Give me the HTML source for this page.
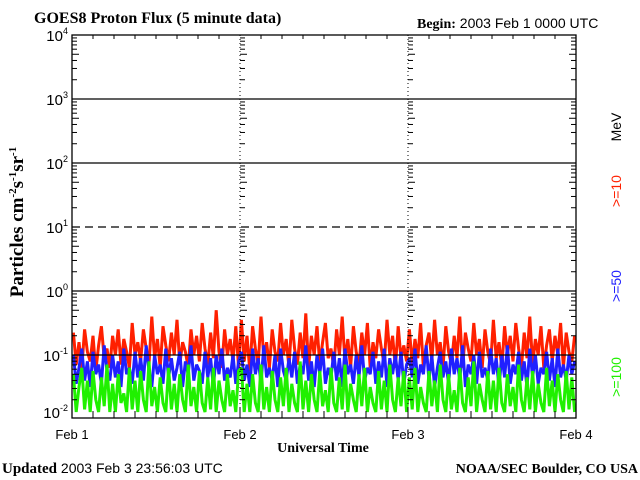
<!DOCTYPE html>
<html><head><meta charset="utf-8"><style>
body{margin:0;width:640px;height:480px;background:#fff;overflow:hidden}
svg{display:block}
.s{font-family:"Liberation Sans",sans-serif}
.b{font-family:"Liberation Serif",serif;font-weight:bold}
</style></head><body>
<svg id="chart" width="640" height="480">
<text class="b" x="34" y="23" font-size="16">GOES8 Proton Flux (5 minute data)</text>
<text x="417" y="28" font-size="14"><tspan class="b">Begin:</tspan><tspan class="s"> 2003 Feb 1 0000 UTC</tspan></text>
<text class="b" transform="translate(23,222) rotate(-90)" text-anchor="middle" font-size="19">Particles cm<tspan font-size="11" dy="-7">-2</tspan><tspan dy="7">s</tspan><tspan font-size="11" dy="-7">-1</tspan><tspan dy="7">sr</tspan><tspan font-size="11" dy="-7">-1</tspan></text>
<text class="s" transform="translate(621,127) rotate(-90)" text-anchor="middle" font-size="14" fill="#000">MeV</text>
<text class="s" transform="translate(621,191) rotate(-90)" text-anchor="middle" font-size="14" fill="#ff2000">&gt;=10</text>
<text class="s" transform="translate(621,286) rotate(-90)" text-anchor="middle" font-size="14" fill="#2020ff">&gt;=50</text>
<text class="s" transform="translate(621,377) rotate(-90)" text-anchor="middle" font-size="14" fill="#20f000">&gt;=100</text>
<g id="plot"></g>
<text class="b" x="323" y="452" text-anchor="middle" font-size="14">Universal Time</text>
<text x="2" y="473" font-size="15"><tspan class="b">Updated</tspan><tspan class="s" font-size="14"> 2003 Feb  3 23:56:03 UTC</tspan></text>
<text class="b" x="638" y="473" text-anchor="end" font-size="14">NOAA/SEC Boulder, CO USA</text>
</svg>
<script>
const dayLabels=["Feb 1","Feb 2","Feb 3","Feb 4"];
const decades=[-2,-1,0,1,2,3,4];
const red=[-0.65,-1.15,-0.8,-1.2,-0.6,-0.95,-1.1,-0.7,-1.25,-0.85,-0.55,-1.05,-0.9,-1.2,-0.7,-1.0,-0.6,-1.15,-0.75,-0.95,-1.2,-0.5,-1.0,-0.8,-1.1,-0.6,-0.9,-1.15,-0.4,-1.05,-0.75,-1.2,-0.55,-0.85,-1.1,-0.65,-1.0,-0.45,-1.15,-0.8,-0.95,-1.2,-0.6,-1.0,-0.7,-1.1,-0.5,-0.9,-1.15,-0.65,-1.05,-0.3,-0.95,-1.2,-0.6,-1.0,-0.75,-1.1,-0.55,-1.2,
-0.45,-1.1,-0.7,-1.25,-0.55,-0.9,-1.15,-0.4,-1.05,-0.8,-1.2,-0.6,-0.95,-1.1,-0.5,-1.0,-0.75,-1.2,-0.45,-0.9,-1.15,-0.65,-1.05,-0.35,-1.2,-0.7,-1.0,-0.55,-1.15,-0.8,-0.5,-1.05,-0.9,-1.2,-0.6,-1.0,-0.4,-1.1,-0.75,-1.2,-0.55,-0.95,-1.15,-0.65,-1.0,-0.5,-1.2,-0.8,-1.05,-0.6,-0.9,-1.15,-0.45,-1.0,-0.7,-1.2,-0.55,-1.05,-0.85,-1.1,
-0.6,-1.15,-0.75,-1.05,-0.5,-1.2,-0.85,-0.65,-1.1,-0.45,-1.0,-0.8,-1.2,-0.55,-0.95,-1.15,-0.7,-1.05,-0.4,-1.2,-0.65,-0.9,-1.1,-0.5,-1.0,-0.75,-1.2,-0.6,-0.95,-1.15,-0.45,-1.05,-0.8,-1.2,-0.55,-1.0,-0.7,-1.1,-0.5,-0.9,-1.2,-0.65,-1.05,-0.4,-1.15,-0.75,-1.0,-0.55,-1.2,-0.85,-0.6,-1.1,-0.7,-1.0,-0.5,-1.2,-0.65,-0.95,-1.1,-0.7];
const blue=[-1.0,-1.45,-1.2,-0.9,-1.4,-1.1,-1.5,-0.95,-1.3,-1.15,-1.45,-0.85,-1.25,-1.4,-1.0,-1.35,-1.1,-1.5,-0.9,-1.3,-1.2,-1.45,-0.95,-1.35,-1.05,-1.4,-0.85,-1.25,-1.5,-1.0,-1.3,-1.15,-1.45,-0.9,-1.35,-1.05,-1.4,-1.2,-0.95,-1.5,-1.1,-1.3,-0.85,-1.4,-1.15,-1.25,-1.45,-0.95,-1.35,-1.05,-1.5,-1.0,-1.3,-0.9,-1.4,-1.2,-1.35,-1.0,-1.45,-1.1,
-0.95,-1.4,-1.15,-1.5,-0.9,-1.3,-1.05,-1.45,-0.85,-1.35,-1.2,-1.4,-1.0,-1.5,-0.9,-1.25,-1.4,-1.05,-1.35,-0.95,-1.45,-1.15,-1.3,-0.85,-1.4,-1.1,-1.5,-1.0,-1.3,-0.9,-1.45,-1.2,-1.35,-0.95,-1.4,-1.05,-1.5,-0.9,-1.3,-1.15,-1.45,-1.0,-1.35,-0.85,-1.4,-1.2,-1.3,-0.95,-1.45,-1.1,-1.35,-0.9,-1.5,-1.05,-1.3,-1.0,-1.4,-0.95,-1.45,-1.15,
-1.05,-1.35,-0.9,-1.45,-1.15,-1.3,-0.85,-1.4,-1.0,-1.5,-1.2,-0.95,-1.35,-1.1,-1.45,-0.9,-1.3,-1.05,-1.4,-0.85,-1.5,-1.15,-1.3,-1.0,-1.45,-0.95,-1.35,-1.2,-1.4,-0.9,-1.3,-1.05,-1.5,-1.0,-1.35,-0.85,-1.45,-1.15,-1.3,-0.95,-1.4,-1.1,-1.5,-0.9,-1.35,-1.0,-1.45,-1.2,-1.3,-0.95,-1.4,-1.05,-1.5,-0.9,-1.35,-1.15,-1.4,-1.0,-1.3,-1.1];
const green=[-1.3,-1.95,-1.5,-1.2,-1.85,-1.4,-2.0,-1.25,-1.7,-1.95,-1.35,-1.8,-1.15,-1.9,-1.45,-2.0,-1.3,-1.75,-1.6,-1.95,-1.2,-1.85,-1.4,-2.0,-1.25,-1.7,-1.9,-1.1,-1.8,-1.5,-2.0,-1.35,-1.75,-1.95,-1.2,-1.85,-1.45,-2.0,-1.3,-1.7,-1.9,-1.15,-1.8,-1.5,-2.0,-1.25,-1.75,-1.95,-1.35,-1.85,-1.2,-2.0,-1.4,-1.7,-1.9,-1.3,-1.8,-1.55,-2.0,-1.25,
-1.2,-1.9,-1.45,-2.0,-1.3,-1.75,-1.95,-1.15,-1.85,-1.5,-2.0,-1.25,-1.7,-1.9,-1.35,-1.8,-1.2,-2.0,-1.45,-1.75,-1.95,-1.1,-1.85,-1.4,-2.0,-1.3,-1.7,-1.9,-1.25,-1.8,-1.55,-2.0,-1.2,-1.75,-1.95,-1.35,-1.85,-1.15,-2.0,-1.45,-1.7,-1.9,-1.3,-1.8,-1.2,-2.0,-1.5,-1.75,-1.95,-1.25,-1.85,-1.4,-2.0,-1.15,-1.7,-1.9,-1.35,-1.8,-1.25,-2.0,
-1.35,-1.85,-1.2,-2.0,-1.5,-1.75,-1.95,-1.25,-1.8,-1.4,-2.0,-1.15,-1.7,-1.9,-1.3,-1.85,-1.55,-2.0,-1.2,-1.75,-1.95,-1.35,-1.8,-1.1,-2.0,-1.45,-1.7,-1.9,-1.25,-1.85,-1.4,-2.0,-1.2,-1.75,-1.95,-1.3,-1.8,-1.5,-2.0,-1.15,-1.7,-1.9,-1.35,-1.85,-1.25,-2.0,-1.45,-1.75,-1.95,-1.2,-1.8,-1.4,-2.0,-1.3,-1.7,-1.9,-1.25,-1.85,-1.35,-1.95];
const X0=72,X1=576,Y0=35,Y1=413;
const xs=t=>X0+(X1-X0)*t/3;
const ys=v=>Math.min(Y1-1,291-64*v);
const NS="http://www.w3.org/2000/svg";
const g=document.getElementById('plot');
function mk(tag,at){const e=document.createElementNS(NS,tag);for(const k in at)e.setAttribute(k,at[k]);g.appendChild(e);return e;}
function series(arr,col,name){const n=arr.length;const pts=arr.map((v,i)=>xs(3*(i+0.5)/n).toFixed(1)+","+ys(v).toFixed(1)).join(" ");
const p=mk('polyline',{points:pts,fill:'none',stroke:col,'stroke-width':3,'stroke-linejoin':'miter','stroke-miterlimit':2});

}
series(red,'#ff2000','series-ge10');
series(blue,'#2020ff','series-ge50');
series(green,'#20f000','series-ge100');
decades.forEach(d=>{if(d<=-2||d>=4)return;const y=ys(d);
const l=mk('line',{x1:X0,x2:X1,y1:y,y2:y,stroke:'#000','stroke-width':1.3});
if(d===1)l.setAttribute('stroke-dasharray','8,5');

});
for(let d=-2;d<4;d++){for(let m=2;m<=9;m++){const y=291-64*(d+Math.log10(m));if(y>Y1||y<Y0)continue;
const w=m===5?7:5;
[X0,X1].forEach(x=>mk('line',{x1:x,x2:x+(x===X0?w:-w),y1:y,y2:y,stroke:'#000'}));
[1,2].forEach(t=>mk('line',{x1:xs(t),x2:xs(t)+w,y1:y,y2:y,stroke:'#000'}));}}
for(let i=0;i<=24;i++){const x=xs(i/8);mk('line',{x1:x,x2:x,y1:Y0,y2:Y0+(i%8?4:0),stroke:'#000'});mk('line',{x1:x,x2:x,y1:Y1+5,y2:Y1+(i%8?-2:-6),stroke:'#000'});}
const fr=mk('rect',{x:X0,y:Y0,width:X1-X0,height:Y1+5-Y0,fill:'none',stroke:'#000','stroke-width':1.3});


[1,2].forEach(t=>{const l=mk('line',{x1:xs(t),x2:xs(t),y1:Y0,y2:Y1+5,stroke:'#000','stroke-dasharray':'1,3'});

});
decades.forEach(d=>{const y=d===-2?412:ys(d);const t=mk('text',{x:X0-4,y:y+6,'text-anchor':'end','font-size':15,'class':'s'});
t.innerHTML='10<tspan font-size="9" dy="-7">'+d+'</tspan>';

});
dayLabels.forEach((s,i)=>{const t=mk('text',{x:xs(i),y:439,'text-anchor':'middle','font-size':13,'class':'s'});
t.textContent=s;

});
</script>
</body></html>
